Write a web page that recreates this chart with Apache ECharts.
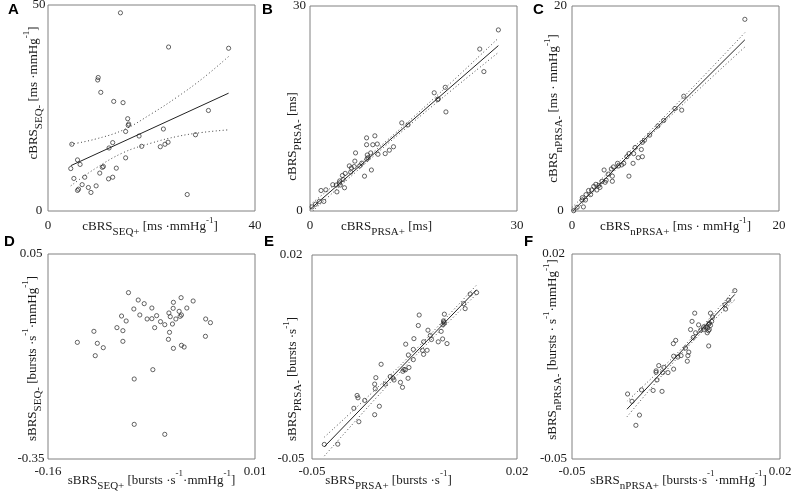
<!DOCTYPE html>
<html>
<head>
<meta charset="utf-8">
<script src="https://cdn.jsdelivr.net/npm/echarts@6/dist/echarts.min.js"></script>
<style>html,body{margin:0;padding:0;background:#fff;}#c{width:792px;height:497px;}</style>
</head>
<body>
<div id="c"></div>
<script>
// ---------- DATA ----------
// Panel A: cBRS SEQ+ vs SEQ-
const aXRange = [0, 40];
const aYRange = [0, 50];
const aPoints = [[14.0,48.1],[23.3,39.8],[34.9,39.5],[9.7,32.4],[9.6,31.8],[10.2,28.8],[12.7,26.6],[14.5,26.3],[31.0,24.4],[15.4,22.4],[15.6,21.1],[15.5,20.8],[22.3,19.9],[15.0,19.3],[28.5,18.5],[17.6,18.2],[4.6,16.2],[18.1,15.7],[22.6,16.2],[21.7,15.6],[12.5,16.6],[23.2,16.7],[11.8,15.3],[15.0,12.9],[5.7,12.4],[6.2,11.3],[10.7,10.8],[10.5,10.6],[4.4,10.3],[13.2,10.4],[10.0,9.2],[7.1,8.2],[5.0,7.9],[12.5,8.2],[11.7,7.8],[6.6,6.4],[7.8,5.7],[9.3,6.1],[5.9,5.3],[5.7,5.0],[8.3,4.5],[26.9,4.0]];
const aFit = [[4.4,11.0],[34.9,28.6]];
const aUpper = [[4.4,16.2],[9,17.4],[14.6,19.7],[20,23.6],[25,27.7],[30,32.3],[34.9,37.5]];
const aLower = [[4.4,6.1],[9,10.2],[14.6,14.2],[20,16.5],[25,18.1],[30,19.1],[34.9,19.7]];

// Panel B: cBRS PRSA+ vs PRSA-
const bXRange = [0, 30];
const bYRange = [0, 30];
const bPoints = [[27.3,26.5],[24.6,23.7],[25.2,20.4],[19.6,18.1],[18.0,17.3],[18.6,16.4],[18.5,16.3],[19.7,14.5],[13.3,12.9],[14.2,12.6],[9.4,11.0],[8.2,10.7],[8.2,9.7],[9.1,9.7],[9.75,9.8],[12.1,9.4],[11.5,8.9],[10.9,8.4],[9.85,8.3],[8.8,8.5],[6.6,8.5],[8.4,7.8],[8.25,7.6],[6.5,7.3],[7.5,7.0],[7.2,6.6],[5.7,6.6],[6.4,6.5],[8.9,6.0],[7.9,5.1],[5.9,5.7],[5.1,5.5],[4.7,5.2],[4.3,4.4],[4.25,4.1],[3.8,3.8],[4.4,3.8],[5.0,3.4],[3.3,3.85],[3.9,2.8],[1.6,3.0],[2.3,3.1],[1.35,1.4],[2.0,1.4],[0.8,1.0],[0.3,0.6],[6.0,6.3],[4.8,4.6],[8.3,8.2]];
const bFit = [[0,0.25],[27.3,24.2]];
const bUpper = [[0,0.9],[13,11.95],[27.3,25.3]];
const bLower = [[0.4,0],[13,11.35],[27.3,23.2]];

// Panel C: cBRS nPRSA+ vs nPRSA-
const cXRange = [0, 20];
const cYRange = [0, 20];
const cPoints = [[16.7,18.7],[10.8,11.2],[9.95,10.0],[10.6,9.84],[8.86,8.83],[8.3,8.3],[7.5,7.4],[7.0,6.9],[6.8,6.7],[6.7,6.0],[6.8,5.3],[6.4,5.2],[5.96,5.6],[5.5,5.6],[5.3,5.3],[5.9,4.65],[5.5,3.4],[5.0,4.65],[4.8,4.5],[4.4,4.65],[4.0,4.3],[3.8,4.1],[3.1,4.0],[3.5,3.6],[3.9,3.4],[3.9,2.9],[3.2,2.8],[2.9,2.9],[2.6,2.5],[2.1,2.4],[1.9,2.05],[1.6,2.0],[1.8,1.6],[1.35,1.6],[0.97,1.07],[1.3,1.07],[1.1,0.4],[0.5,0.36],[0.16,0.03],[2.4,2.05],[3.3,3.0],[2.7,2.3],[4.5,4.4],[6.1,6.2],[2.3,2.6],[1.0,1.3]];
const cFit = [[0.1,0.03],[16.7,16.7]];
const cUpper = [[0,0.35],[8,8.25],[16.7,17.4]];
const cLower = [[0.3,0],[8,7.8],[16.7,16.0]];

// Panel D: sBRS SEQ+ vs SEQ-
const dXRange = [-0.16, 0.01];
const dYRange = [-0.35, 0.05];
const dPoints = [[-0.0939,-0.0254],[-0.0859,-0.0398],[-0.081,-0.0469],[-0.0895,-0.0573],[-0.0747,-0.0554],[-0.0846,-0.069],[-0.0996,-0.071],[-0.0958,-0.0807],[-0.0786,-0.0768],[-0.0747,-0.0762],[-0.0708,-0.0703],[-0.0676,-0.082],[-0.0641,-0.0879],[-0.0724,-0.0937],[-0.1034,-0.0937],[-0.0985,-0.0996],[-0.1223,-0.1009],[-0.0607,-0.0651],[-0.0596,-0.0723],[-0.0572,-0.056],[-0.057,-0.0443],[-0.0507,-0.0352],[-0.0408,-0.0417],[-0.046,-0.0554],[-0.0523,-0.0619],[-0.0504,-0.069],[-0.0515,-0.0716],[-0.055,-0.0768],[-0.0578,-0.0866],[-0.0602,-0.1028],[-0.0611,-0.1165],[-0.057,-0.1341],[-0.0504,-0.1282],[-0.0482,-0.1315],[-0.0305,-0.0768],[-0.0266,-0.084],[-0.0307,-0.1106],[-0.1359,-0.1224],[-0.1195,-0.1243],[-0.1146,-0.1328],[-0.1212,-0.1484],[-0.0985,-0.1204],[-0.0739,-0.1757],[-0.0892,-0.1939],[-0.0892,-0.2824],[-0.0641,-0.3019]];

// Panel E: sBRS PRSA+ vs PRSA-
const eXRange = [-0.05, 0.02];
const eYRange = [-0.05, 0.02];
const ePoints = [[0.0062,0.0071],[0.0040,0.0066],[0.0018,0.0033],[0.0023,0.0016],[-0.0048,-0.0003],[-0.0134,-0.0006],[-0.0051,-0.0026],[-0.0048,-0.0034],[-0.0053,-0.0039],[-0.0137,-0.0042],[-0.0104,-0.0058],[-0.0059,-0.0062],[-0.0096,-0.0076],[-0.0152,-0.0087],[-0.0092,-0.0090],[-0.0069,-0.0098],[-0.0054,-0.0088],[-0.0039,-0.0104],[-0.0119,-0.0098],[-0.0180,-0.0106],[-0.0154,-0.0124],[-0.0123,-0.0127],[-0.0107,-0.0127],[-0.0119,-0.0141],[-0.0171,-0.0143],[-0.0154,-0.0159],[-0.0264,-0.0175],[-0.0169,-0.0186],[-0.0181,-0.0194],[-0.0190,-0.0199],[-0.0186,-0.0193],[-0.0172,-0.0223],[-0.0224,-0.0222],[-0.0282,-0.0221],[-0.0220,-0.0229],[-0.0233,-0.0217],[-0.0198,-0.0237],[-0.0191,-0.0254],[-0.0250,-0.0243],[-0.0286,-0.0243],[-0.0284,-0.0259],[-0.0346,-0.0282],[-0.0343,-0.0290],[-0.0320,-0.0299],[-0.0270,-0.0319],[-0.0357,-0.0326],[-0.0286,-0.0348],[-0.0340,-0.0372],[-0.0458,-0.0450],[-0.0412,-0.0449],[-0.0050,-0.0030]];
const eFit = [[-0.0458,-0.0458],[0.0062,0.0081]];
const eUpper = [[-0.0458,-0.0425],[-0.0198,-0.0178],[0.0062,0.0097]];
const eLower = [[-0.0458,-0.0490],[-0.0198,-0.0200],[0.0062,0.0066]];

// Panel F: sBRS nPRSA+ vs nPRSA-
const fXRange = [-0.05, 0.02];
const fYRange = [-0.05, 0.02];
const fPoints = [[0.0048,0.0075],[0.0027,0.0042],[0.0015,0.0027],[0.0017,0.0012],[-0.0034,-0.0002],[-0.0087,-0.0002],[-0.0027,-0.0015],[-0.0096,-0.0030],[-0.0074,-0.0042],[-0.0057,-0.0049],[-0.0050,-0.0049],[-0.0040,-0.0040],[-0.0038,-0.0036],[-0.0057,-0.0058],[-0.0034,-0.0044],[-0.0038,-0.0058],[-0.0045,-0.0069],[-0.0067,-0.0060],[-0.0101,-0.0058],[-0.0084,-0.0069],[-0.0092,-0.0085],[-0.0040,-0.0114],[-0.0151,-0.0095],[-0.0159,-0.0106],[-0.0118,-0.0121],[-0.0107,-0.0135],[-0.0110,-0.0147],[-0.0112,-0.0166],[-0.0158,-0.0149],[-0.0144,-0.0152],[-0.0133,-0.0147],[-0.0158,-0.0193],[-0.0191,-0.0187],[-0.0208,-0.0181],[-0.0217,-0.0199],[-0.0217,-0.0204],[-0.0177,-0.0205],[-0.0195,-0.0205],[-0.0214,-0.0230],[-0.0227,-0.0266],[-0.0197,-0.0269],[-0.0266,-0.0264],[-0.0313,-0.0278],[-0.0298,-0.0303],[-0.0273,-0.0350],[-0.0285,-0.0385],[-0.0044,-0.0052],[-0.0041,-0.0062],[-0.0030,-0.0030]];
const fFit = [[-0.0315,-0.0330],[0.0048,0.0062]];
const fUpper = [[-0.0315,-0.0303],[-0.0130,-0.0122],[0.0048,0.0079]];
const fLower = [[-0.0315,-0.0356],[-0.0130,-0.0138],[0.0048,0.0044]];

// ---------- STYLE / LAYOUT ----------
const FONT = '"Liberation Serif", "Times New Roman", serif';
const INK = '#1a1a1a';
const rich = {
  m: {fontSize: 13, fontFamily: FONT, color: INK, lineHeight: 22},
  s: {fontSize: 11, fontFamily: FONT, color: INK, lineHeight: 14, verticalAlign: 'bottom'},
  p: {fontSize: 9, fontFamily: FONT, color: INK, lineHeight: 13, verticalAlign: 'top'}
};

const panels = [
  {letter: 'A', lp: [8, 2], grid: {left: 48, top: 5, width: 207, height: 206},
   xr: aXRange, yr: aYRange, pts: aPoints, fit: aFit, up: aUpper, lo: aLower,
   xName: '{m|cBRS}{s|SEQ+}{m| [ms ·mmHg}{p|-1}{m|]}',
   yName: '{m|cBRS}{s|SEQ-}{m| [ms ·mmHg}{p|-1}{m|]}',
   xGap: 5, yGap: 3.5, xPad: [0, 3, 0, 0], yPad: [0, 0, 0, 30], xLm: 8, yLm: 9},
  {letter: 'B', lp: [262, 2], grid: {left: 310, top: 6, width: 207, height: 205},
   xr: bXRange, yr: bYRange, pts: bPoints, fit: bFit, up: bUpper, lo: bLower,
   xName: '{m|cBRS}{s|PRSA+}{m| [ms]}',
   yName: '{m|cBRS}{s|PRSA-}{m| [ms]}',
   xGap: 5, yGap: 6, xPad: [0, 54, 0, 0], yPad: [0, 56, 0, 0], xLm: 8, yLm: 10.5},
  {letter: 'C', lp: [533, 2], grid: {left: 572, top: 6, width: 207, height: 205},
   xr: cXRange, yr: cYRange, pts: cPoints, fit: cFit, up: cUpper, lo: cLower,
   xName: '{m|cBRS}{s|nPRSA+}{m| [ms · mmHg}{p|-1}{m|]}',
   yName: '{m|cBRS}{s|nPRSA-}{m| [ms · mmHg}{p|-1}{m|]}',
   xGap: 5, yGap: 7, xPad: [0, 0, 0, 0], yPad: [0, 0, 0, 0], xLm: 8, yLm: 11.5},
  {letter: 'D', lp: [4, 234], grid: {left: 48, top: 254, width: 207, height: 205},
   xr: dXRange, yr: dYRange, pts: dPoints, fit: null, up: null, lo: null,
   xName: '{m|sBRS}{s|SEQ+}{m| [bursts ·s}{p|-1}{m|·mmHg}{p|-1}{m|]}',
   yName: '{m|sBRS}{s|SEQ-}{m| [bursts ·s}{p|-1}{m|·mmHg}{p|-1}{m|]}',
   xGap: 10.5, yGap: 4.5, xPad: [0, 0, 0, 0], yPad: [0, 4, 0, 0], xLm: 6, yLm: 17},
  {letter: 'E', lp: [264, 234], grid: {left: 312, top: 255, width: 205, height: 204},
   xr: eXRange, yr: eYRange, pts: ePoints, fit: eFit, up: eUpper, lo: eLower,
   xName: '{m|sBRS}{s|PRSA+}{m| [bursts ·s}{p|-1}{m|]}',
   yName: '{m|sBRS}{s|PRSA-}{m| [bursts ·s}{p|-1}{m|]}',
   xGap: 10.5, yGap: 8, xPad: [0, 52, 0, 0], yPad: [0, 44, 0, 0], xLm: 6, yLm: 21},
  {letter: 'F', lp: [524, 234], grid: {left: 572, top: 254, width: 208, height: 205},
   xr: fXRange, yr: fYRange, pts: fPoints, fit: fFit, up: fUpper, lo: fLower,
   xName: '{m|sBRS}{s|nPRSA+}{m| [bursts·s}{p|-1}{m|·mmHg}{p|-1}{m|]}',
   yName: '{m|sBRS}{s|nPRSA-}{m| [bursts · s}{p|-1}{m|·mmHg}{p|-1}{m|]}',
   xGap: 10.5, yGap: 8, xPad: [0, 0, 0, 5], yPad: [0, 0, 0, 14], xLm: 6, yLm: 18.5}
];

const grids = [], xAxes = [], yAxes = [], series = [], graphics = [];
panels.forEach((p, i) => {
  grids.push(Object.assign({show: true, borderColor: '#808080', borderWidth: 1, backgroundColor: 'transparent',
    containLabel: false, outerBoundsMode: 'none'}, p.grid));
  const labelBase = {fontSize: 13, fontFamily: FONT, color: INK, showMinLabel: true, showMaxLabel: true, hideOverlap: false};
  xAxes.push({
    type: 'value', gridIndex: i, min: p.xr[0], max: p.xr[1],
    axisLine: {show: false}, axisTick: {show: false}, splitLine: {show: false},
    axisLabel: Object.assign({customValues: p.xr, margin: p.xLm}, labelBase),
    name: p.xName, nameLocation: 'middle', nameGap: p.xGap, nameMoveOverlap: false,
    nameTextStyle: {rich: rich, padding: p.xPad}
  });
  yAxes.push({
    type: 'value', gridIndex: i, min: p.yr[0], max: p.yr[1],
    axisLine: {show: false}, axisTick: {show: false}, splitLine: {show: false},
    axisLabel: Object.assign({customValues: p.yr, margin: p.yLm, align: 'center'}, labelBase),
    name: p.yName, nameLocation: 'middle', nameGap: p.yGap, nameRotate: 90, nameMoveOverlap: false,
    nameTextStyle: {rich: rich, padding: p.yPad}
  });
  series.push({
    type: 'scatter', xAxisIndex: i, yAxisIndex: i, data: p.pts,
    symbol: 'circle', symbolSize: 4.2,
    itemStyle: {color: 'rgba(0,0,0,0)', borderColor: '#2a2a2a', borderWidth: 0.9},
    silent: true, z: 3
  });
  if (p.fit) {
    series.push({type: 'line', xAxisIndex: i, yAxisIndex: i, data: p.fit, symbol: 'none',
      lineStyle: {color: '#222', width: 1}, silent: true, z: 2});
    [p.up, p.lo].forEach(b => series.push({type: 'line', xAxisIndex: i, yAxisIndex: i, data: b,
      symbol: 'none', smooth: 0.4, lineStyle: {color: '#444', width: 1, type: [1, 2.5]}, silent: true, z: 2}));
  }
  graphics.push({type: 'text', left: p.lp[0], top: p.lp[1],
    style: {text: p.letter, font: 'bold 15px "Liberation Sans", Arial, sans-serif', fill: '#000'}});
});

const chart = echarts.init(document.getElementById('c'), null, {renderer: 'canvas'});
chart.setOption({
  animation: false,
  backgroundColor: '#fff',
  grid: grids, xAxis: xAxes, yAxis: yAxes, series: series,
  graphic: graphics
});
</script>
</body>
</html>
